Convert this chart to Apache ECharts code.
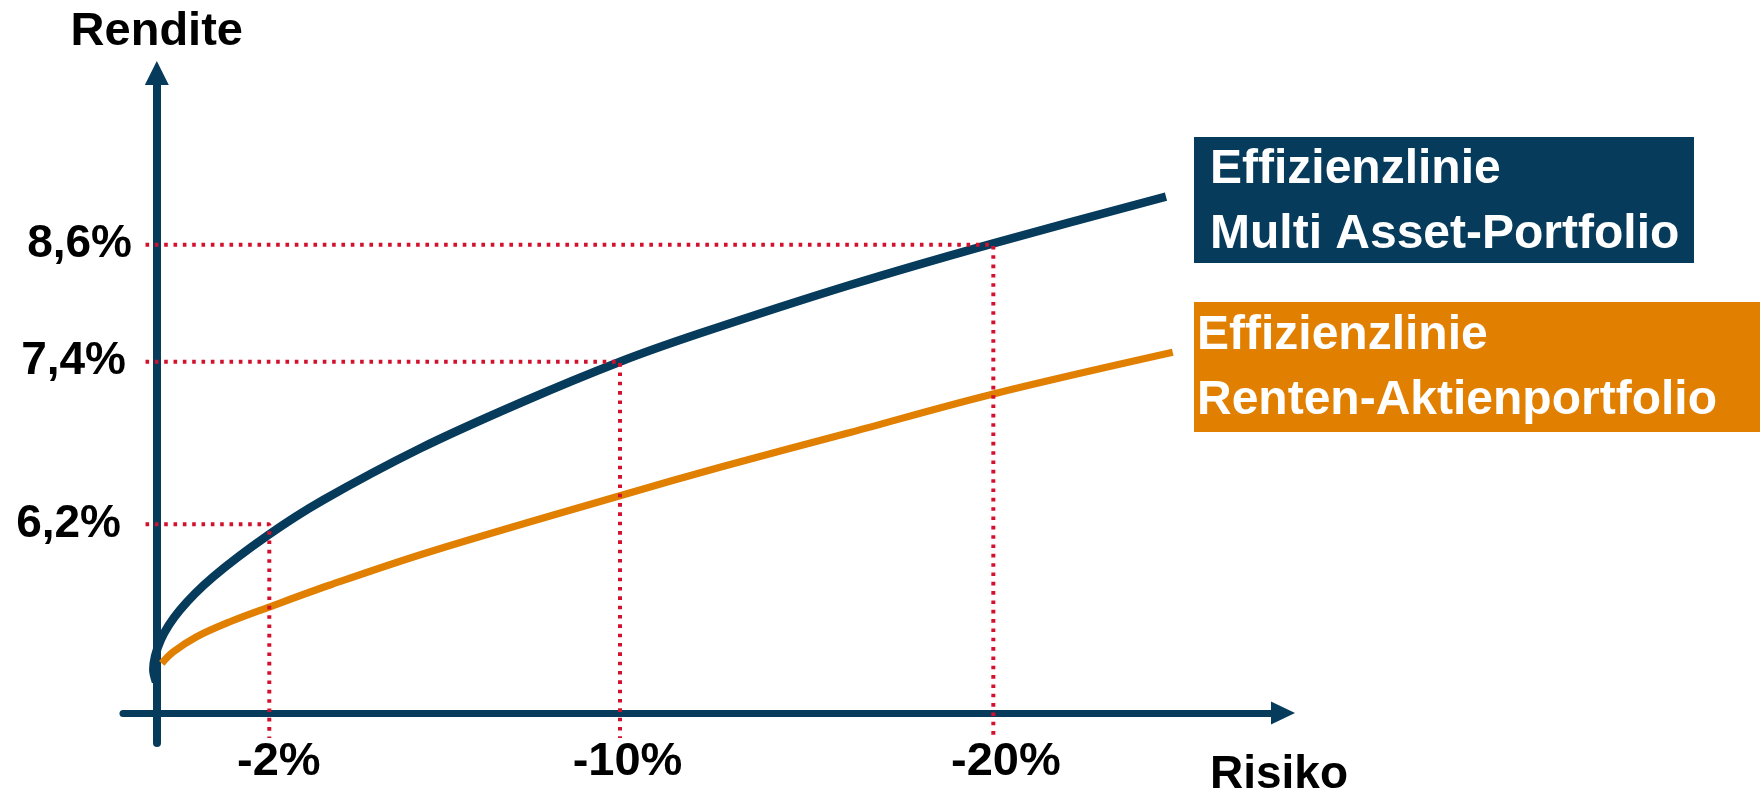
<!DOCTYPE html>
<html>
<head>
<meta charset="utf-8">
<script src="https://cdn.jsdelivr.net/npm/echarts@6/dist/echarts.min.js"></script>
<style>
  html, body { margin: 0; padding: 0; background: #ffffff; }
  #chart { width: 1760px; height: 796px; }
</style>
</head>
<body>
<div id="chart"></div>
<script>
// ---- data (schematic units: risk on x, return on y) ----
const riskTickLabels = ['-2%', '-10%', '-20%'];
const riskTickValues = [9.99, 41.13, 74.28];
const returnTickLabels = ['6,2%', '7,4%', '8,6%'];
const returnTickValues = [29.47, 54.88, 73.17];

const multiAssetRisk   = [-0.07, -0.31, 0.35, 2.06, 5.02, 9.90, 14.78, 23.37, 32.25, 41.13, 48.23, 61.55, 74.28, 89.61];
const multiAssetReturn = [4.83, 6.70, 11.39, 16.08, 21.28, 27.80, 33.27, 41.32, 48.43, 54.88, 59.32, 66.87, 73.39, 80.67];

const rentenAktienRisk   = [0.44, 1.46, 3.54, 6.50, 9.90, 15.38, 24.26, 41.13, 50.01, 61.55, 74.28, 90.21];
const rentenAktienReturn = [7.75, 9.53, 11.91, 14.25, 16.50, 19.99, 25.19, 33.94, 38.38, 43.82, 49.84, 56.35];

const seriesNames = ['Effizienzlinie Multi Asset-Portfolio', 'Effizienzlinie Renten-Aktienportfolio'];
const boxLines = [['Effizienzlinie', 'Multi Asset-Portfolio'], ['Effizienzlinie', 'Renten-Aktienportfolio']];
const axisNames = ['Risiko', 'Rendite'];

// ---- styling ----
const NAVY = '#063B5C';
const ORANGE = '#E07F00';
const RED = '#D3112E';
const FONT = '"Liberation Sans", Arial, Helvetica, sans-serif';
const guideStartX = -1;
const guideEndY = -3.9;

function zip(xs, ys) { return xs.map((x, i) => [x, ys[i]]); }
function nearestIndex(arr, v) {
  let best = 0;
  arr.forEach((a, i) => { if (Math.abs(a - v) < Math.abs(arr[best] - v)) best = i; });
  return best;
}

// guide (dotted) lines: pair i-th risk tick with i-th return tick
const guideSeries = [];
riskTickValues.forEach((rx, i) => {
  const ry = returnTickValues[i];
  guideSeries.push({
    type: 'line',
    data: [[guideStartX, ry], [rx, ry], [rx, guideEndY]],
    symbol: 'none',
    silent: true,
    z: 5,
    lineStyle: { color: RED, width: 4, type: [3.6, 5.73], cap: 'butt' }
  });
});

const yPad = [11, 6, 0];
const xPad = [19, 15, 25];

function richSet(prefix, size, pads, side) {
  const r = {};
  pads.forEach((p, i) => {
    r[prefix + i] = {
      fontFamily: FONT, fontWeight: 'bold', fontSize: size, color: '#000',
      padding: side === 'left' ? [0, 0, 0, p] : [0, p, 0, 0]
    };
  });
  return r;
}

const chart = echarts.init(document.getElementById('chart'), null, { renderer: 'canvas' });
chart.setOption({
  animation: false,
  backgroundColor: '#ffffff',
  grid: { left: 123, top: 73, width: 1160, height: 670, containLabel: false, outerBoundsMode: 'none' },
  xAxis: {
    type: 'value',
    min: -3, max: 100,
    splitLine: { show: false },
    axisTick: { show: false },
    axisLine: {
      show: true, onZero: true,
      lineStyle: { color: NAVY, width: 7 },
      symbol: ['none', 'triangle'], symbolSize: [23, 24]
    },
    axisLabel: {
      customValues: riskTickValues,
      margin: -4,
      fontFamily: FONT, fontWeight: 'bold', fontSize: 47, color: '#000',
      formatter: function (v) {
        const i = nearestIndex(riskTickValues, v);
        return '{x' + i + '|' + riskTickLabels[i] + '}';
      },
      rich: richSet('x', 47, xPad, 'left')
    }
  },
  yAxis: {
    type: 'value',
    min: -4.7, max: 100,
    name: axisNames[1],
    nameLocation: 'end',
    nameGap: 41,
    nameTextStyle: {
      fontFamily: FONT, fontWeight: 'bold', fontSize: 47, color: '#000',
      align: 'center', verticalAlign: 'middle'
    },
    splitLine: { show: false },
    axisTick: { show: false },
    axisLine: {
      show: true, onZero: true,
      lineStyle: { color: NAVY, width: 8 },
      symbol: ['none', 'triangle'], symbolSize: [24, 24]
    },
    axisLabel: {
      customValues: returnTickValues,
      margin: -9,
      fontFamily: FONT, fontWeight: 'bold', fontSize: 46, color: '#000',
      formatter: function (v) {
        const i = nearestIndex(returnTickValues, v);
        return '{y' + i + '|' + returnTickLabels[i] + '}';
      },
      rich: richSet('y', 46, yPad, 'right')
    }
  },
  series: [
    {
      name: seriesNames[0],
      type: 'line',
      data: zip(multiAssetRisk, multiAssetReturn),
      smooth: 0.3,
      symbol: 'none',
      z: 3,
      lineStyle: { color: NAVY, width: 8.5 }
    },
    {
      name: seriesNames[1],
      type: 'line',
      data: zip(rentenAktienRisk, rentenAktienReturn),
      smooth: 0.35,
      symbol: 'none',
      z: 3,
      lineStyle: { color: ORANGE, width: 7.2 }
    }
  ].concat(guideSeries),
  graphic: [
    { type: 'text', x: 1279, y: 775, z: 11, style: { text: axisNames[0], fill: '#000', font: 'bold 46px ' + FONT, align: 'center', verticalAlign: 'middle' } },
    { type: 'rect', left: 1194, top: 137, shape: { width: 500, height: 126 }, style: { fill: NAVY }, z: 10 },
    { type: 'text', x: 1210, y: 170, z: 11, style: { text: boxLines[0][0], fill: '#fff', font: 'bold 48px ' + FONT, verticalAlign: 'middle' } },
    { type: 'text', x: 1210, y: 235, z: 11, style: { text: boxLines[0][1], fill: '#fff', font: 'bold 48px ' + FONT, verticalAlign: 'middle' } },
    { type: 'rect', left: 1194, top: 302, shape: { width: 566, height: 130 }, style: { fill: ORANGE }, z: 10 },
    { type: 'text', x: 1197, y: 336, z: 11, style: { text: boxLines[1][0], fill: '#fff', font: 'bold 48px ' + FONT, verticalAlign: 'middle' } },
    { type: 'text', x: 1197, y: 401, z: 11, style: { text: boxLines[1][1], fill: '#fff', font: 'bold 48px ' + FONT, verticalAlign: 'middle' } }
  ]
});
</script>
</body>
</html>
